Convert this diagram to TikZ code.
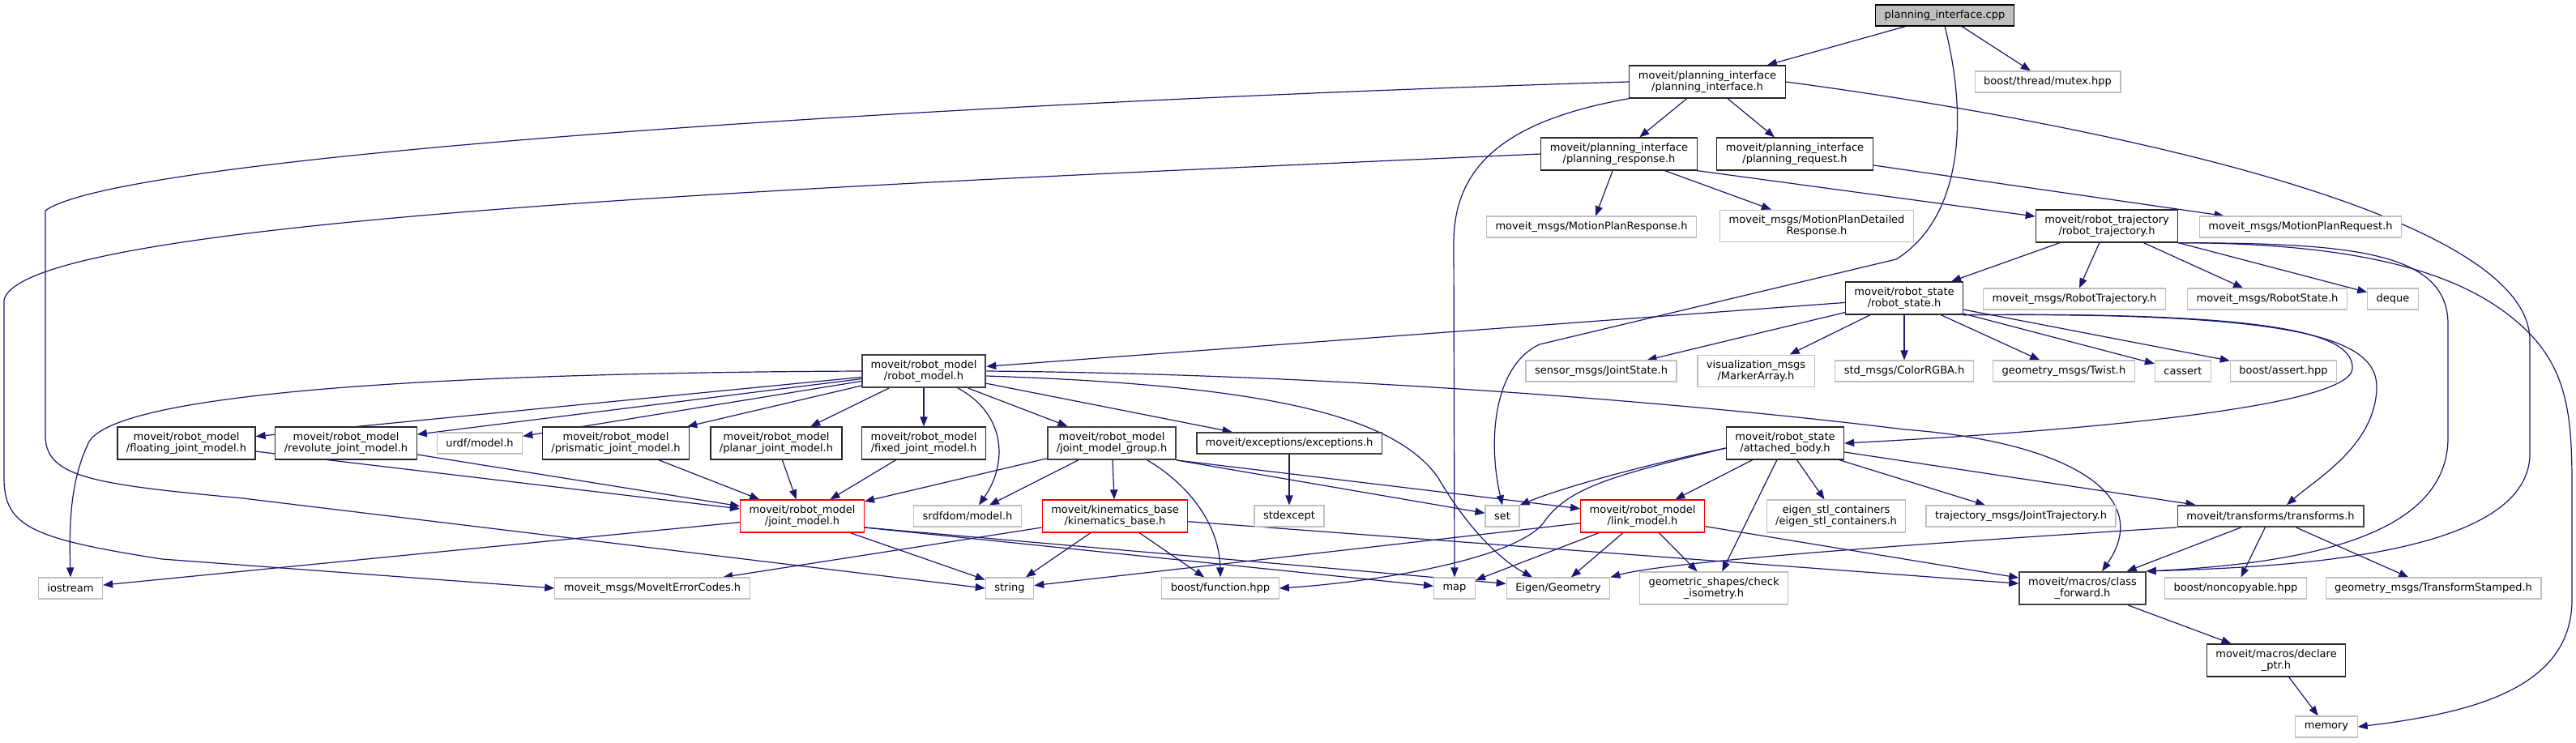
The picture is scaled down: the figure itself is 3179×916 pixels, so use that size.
\documentclass[tikz,border=0pt]{standalone}
\usepackage{fontspec}
\setmainfont{DejaVu Sans}
\usepackage{tikz}
\usetikzlibrary{arrows.meta,backgrounds}
\definecolor{edgeblue}{HTML}{191970}
\definecolor{extgray}{HTML}{BFBFBF}
\definecolor{darkborder}{HTML}{404040}
\definecolor{fileborder}{HTML}{262626}
\tikzset{
  filenode/.style={
    rectangle, draw=fileborder, line width=0.6pt, fill=white,
    align=center, inner xsep=5.5pt, inner ysep=3.2pt,
    minimum height=13pt, font=\fontsize{6.5pt}{7.2pt}\selectfont
  },
  extnode/.style={filenode, draw=extgray},
  darknode/.style={filenode, draw=darkborder, line width=0.9pt},
  trunode/.style={filenode, draw=red},
  rootnode/.style={filenode, draw=black, fill=extgray},
  incarrow/.style={-{Triangle[length=6pt,width=4.6pt]}, line width=0.6pt, draw=edgeblue},
}

\begin{document}
\begin{tikzpicture}[x=0.5pt,y=-0.5pt]
  \useasboundingbox (0,0) rectangle (3179,916);
  \node[rootnode] (pifcpp) at (2400,19) {planning\_interface.cpp};
  \node[filenode] (pih) at (2107,101) {moveit/planning\_interface\\/planning\_interface.h};
  \node[extnode] (mutex) at (2527,101) {boost/thread/mutex.hpp};
  \node[filenode] (presp) at (1998,190) {moveit/planning\_interface\\/planning\_response.h};
  \node[filenode] (preq) at (2215,190) {moveit/planning\_interface\\/planning\_request.h};
  \node[extnode] (mpresp) at (1964,280) {moveit\_msgs/MotionPlanResponse.h};
  \node[extnode] (mpdet) at (2242,279) {moveit\_msgs/MotionPlanDetailed\\Response.h};
  \node[filenode] (rtraj) at (2600,279) {moveit/robot\_trajectory\\/robot\_trajectory.h};
  \node[extnode] (mpreq) at (2839,280) {moveit\_msgs/MotionPlanRequest.h};
  \node[filenode] (rstate) at (2350,368) {moveit/robot\_state\\/robot\_state.h};
  \node[extnode] (rtmsg) at (2560,369) {moveit\_msgs/RobotTrajectory.h};
  \node[extnode] (rsmsg) at (2798,369) {moveit\_msgs/RobotState.h};
  \node[extnode] (deque) at (2953,369) {deque};
  \node[darknode] (rmodel) at (1140,458) {moveit/robot\_model\\/robot\_model.h};
  \node[extnode] (jstate) at (1976,458) {sensor\_msgs/JointState.h};
  \node[extnode] (markarr) at (2167,458) {visualization\_msgs\\/MarkerArray.h};
  \node[extnode] (color) at (2350,458) {std\_msgs/ColorRGBA.h};
  \node[extnode] (twist) at (2547,458) {geometry\_msgs/Twist.h};
  \node[extnode] (cassert) at (2694,458) {cassert};
  \node[extnode] (bassert) at (2818,458) {boost/assert.hpp};
  \node[filenode] (floatj) at (230,547) {moveit/robot\_model\\/floating\_joint\_model.h};
  \node[filenode] (revj) at (427,547) {moveit/robot\_model\\/revolute\_joint\_model.h};
  \node[extnode] (urdf) at (592,547) {urdf/model.h};
  \node[filenode] (prisj) at (760,547) {moveit/robot\_model\\/prismatic\_joint\_model.h};
  \node[filenode] (planj) at (958,547) {moveit/robot\_model\\/planar\_joint\_model.h};
  \node[filenode] (fixj) at (1140,547) {moveit/robot\_model\\/fixed\_joint\_model.h};
  \node[darknode] (jmg) at (1372,547) {moveit/robot\_model\\/joint\_model\_group.h};
  \node[darknode] (excp) at (1591,547) {moveit/exceptions/exceptions.h};
  \node[filenode] (attb) at (2203,547) {moveit/robot\_state\\/attached\_body.h};
  \node[trunode] (jmodel) at (990,637) {moveit/robot\_model\\/joint\_model.h};
  \node[extnode] (srdf) at (1194,637) {srdfdom/model.h};
  \node[trunode] (kinb) at (1376,637) {moveit/kinematics\_base\\/kinematics\_base.h};
  \node[extnode] (stdexc) at (1591,637) {stdexcept};
  \node[extnode] (setn) at (1854,637) {set};
  \node[trunode] (lmodel) at (2027,637) {moveit/robot\_model\\/link\_model.h};
  \node[extnode] (eigstl) at (2266,637) {eigen\_stl\_containers\\/eigen\_stl\_containers.h};
  \node[extnode] (jtraj) at (2494,637) {trajectory\_msgs/JointTrajectory.h};
  \node[darknode] (xform) at (2802,637) {moveit/transforms/transforms.h};
  \node[extnode] (iostr) at (87,726) {iostream};
  \node[extnode] (errc) at (805,726) {moveit\_msgs/MoveItErrorCodes.h};
  \node[extnode] (strn) at (1246,726) {string};
  \node[extnode] (bfunc) at (1506,726) {boost/function.hpp};
  \node[extnode] (mapn) at (1795,726) {map};
  \node[extnode] (eigen) at (1923,726) {Eigen/Geometry};
  \node[extnode] (chkiso) at (2115,726) {geometric\_shapes/check\\\_isometry.h};
  \node[darknode] (clsfwd) at (2570,726) {moveit/macros/class\\\_forward.h};
  \node[extnode] (noncp) at (2759,726) {boost/noncopyable.hpp};
  \node[extnode] (tfst) at (3003,726) {geometry\_msgs/TransformStamped.h};
  \node[filenode] (declp) at (2809,815) {moveit/macros/declare\\\_ptr.h};
  \node[extnode] (memry) at (2871,897) {memory};
  \begin{scope}[on background layer]
    \fill[white] (0,0) rectangle (3179,916);
    \foreach \a/\b in {pifcpp/pih,pifcpp/mutex,pih/presp,pih/preq,presp/mpresp,presp/mpdet,
        preq/mpreq,rtraj/rstate,rtraj/rtmsg,rtraj/rsmsg,rstate/rmodel,rstate/jstate,
        rstate/markarr,rstate/color,rstate/twist,rstate/cassert,rstate/bassert,
        rmodel/floatj,rmodel/revj,rmodel/urdf,rmodel/prisj,rmodel/planj,rmodel/fixj,
        rmodel/jmg,rmodel/excp,floatj/jmodel,revj/jmodel,prisj/jmodel,planj/jmodel,
        fixj/jmodel,jmg/jmodel,jmg/srdf,jmg/kinb,excp/stdexc,attb/lmodel,attb/chkiso,
        attb/eigstl,attb/jtraj,attb/xform,jmodel/iostr,jmodel/strn,kinb/errc,kinb/strn,
        kinb/bfunc,kinb/clsfwd,lmodel/mapn,lmodel/eigen,lmodel/chkiso,lmodel/strn,
        lmodel/clsfwd,xform/clsfwd,xform/noncp,xform/tfst,clsfwd/declp,declp/memry}
      \draw[incarrow] (\a) -- (\b);
    \draw[incarrow] (presp.south east) -- (rtraj);
    \draw[incarrow] (rtraj.south east) -- (deque);
    \draw[incarrow] (jmg.south east) -- (setn);
    \draw[incarrow] (jmg.south east) -- (lmodel);
    \draw[incarrow] ([yshift=-7pt]jmodel.east) -- (eigen);
    \draw[incarrow] ([yshift=-7pt]jmodel.east) -- (mapn);
    \draw[incarrow] (xform.south west) .. controls (2300,675) and (2050,695) .. (eigen.north east);
    \draw[incarrow] (pifcpp.south) .. controls (2430,150) and (2420,270) .. (2340,320)
      -- (1900,425) .. controls (1845,450) and (1835,540) .. (setn.north);
    \draw[incarrow] (pih.west) .. controls (1200,125) and (150,190) .. (56,260)
      -- (56,540) .. controls (58,590) and (120,598) .. (300,615) -- (strn.west);
    \draw[incarrow] (presp.west) .. controls (1000,230) and (30,270) .. (5,370)
      -- (5,590) .. controls (5,650) and (40,665) .. (200,690) -- (errc.west);
    \draw[incarrow] (pih.south west) .. controls (1850,150) and (1794,210) .. (1794,300) -- (mapn.north);
    \draw[incarrow] (pih.east) .. controls (2500,140) and (3122,250) .. (3122,420)
      -- (3122,560) .. controls (3122,690) and (2800,700) .. (clsfwd.north east);
    \draw[incarrow] (rtraj.south east) .. controls (2900,300) and (3021,310) .. (3021,400)
      -- (3021,540) .. controls (3021,660) and (2850,695) .. (clsfwd.north east);
    \draw[incarrow] (rtraj.south east) .. controls (2950,300) and (3060,350) .. (3120,410)
      .. controls (3170,460) and (3174,520) .. (3174,600) -- (3174,740)
      .. controls (3174,850) and (3050,880) .. (memry.east);
    \draw[incarrow] (rstate.south east) .. controls (2800,385) and (2905,410) .. (2903,455)
      .. controls (2900,500) and (2600,530) .. (attb.east);
    \draw[incarrow] (rstate.south east) .. controls (2850,385) and (2935,420) .. (2933,480)
      .. controls (2930,550) and (2860,590) .. ([xshift=10pt]xform.north);
    \draw[incarrow] (rmodel.east) .. controls (1700,462) and (2150,505) .. (2350,530)
      .. controls (2550,545) and (2660,610) .. ([xshift=12pt]clsfwd.north);
    \draw[incarrow] ([yshift=-3pt]rmodel.east) .. controls (1550,475) and (1720,510) .. (1775,590)
      .. controls (1810,650) and (1850,690) .. ([xshift=-16pt]eigen.north);
    \draw[incarrow] (rmodel.west) .. controls (600,460) and (150,480) .. (110,545)
      .. controls (88,590) and (85,640) .. (iostr.north);
    \draw[incarrow] ([xshift=21pt]rmodel.south) .. controls (1240,510) and (1245,570) .. ([xshift=7pt]srdf.north);
    \draw[incarrow] ([xshift=22pt]jmg.south) .. controls (1470,600) and (1505,650) .. (bfunc.north);
    \draw[incarrow] ([yshift=-3pt]attb.west) .. controls (2010,578) and (1920,605) .. (setn.north east);
    \draw[incarrow] ([yshift=-3pt]attb.west) .. controls (2000,585) and (1935,600) .. (1905,645)
      .. controls (1870,690) and (1700,718) .. (bfunc.east);
  \end{scope}
\end{tikzpicture}
\end{document}
